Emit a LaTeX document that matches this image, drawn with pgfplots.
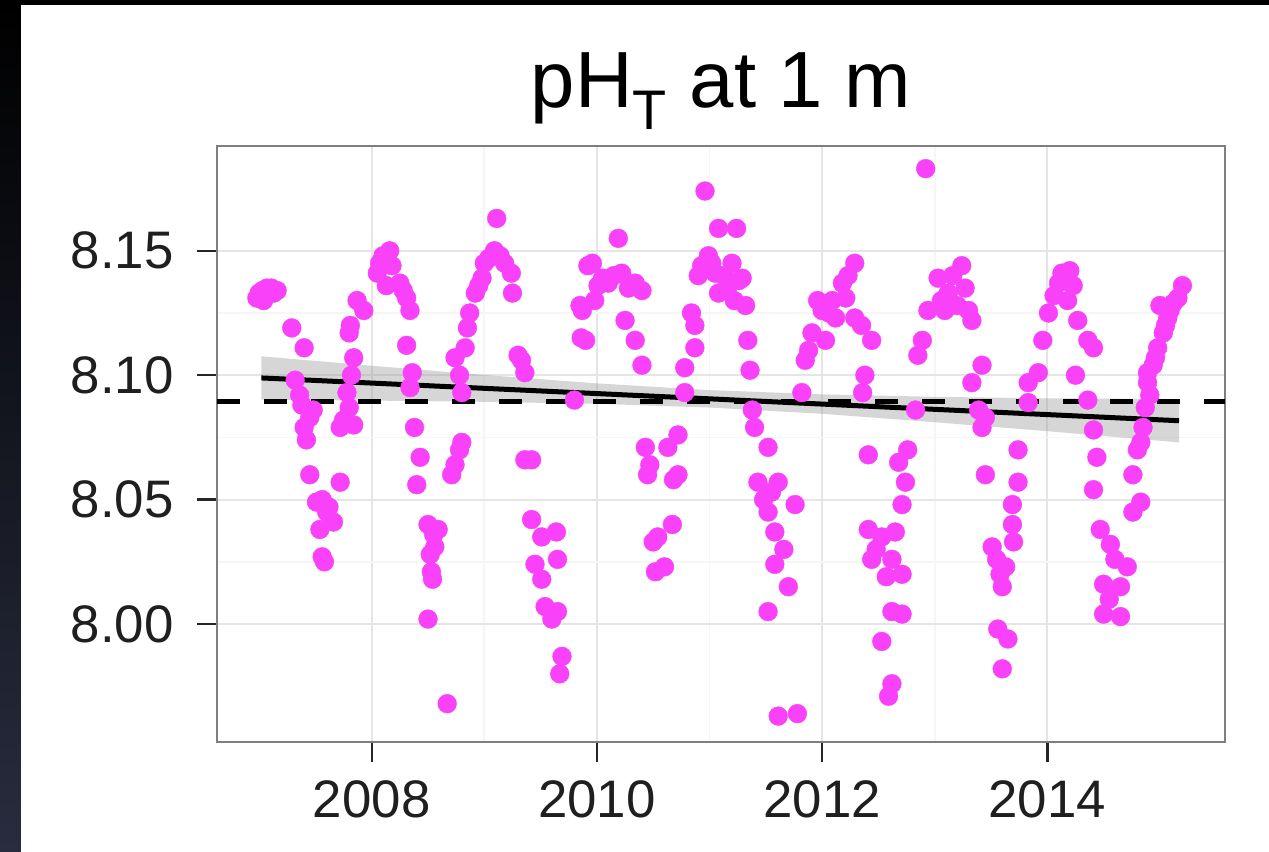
\documentclass[border=0pt]{standalone}
\usepackage{pgfplots}
\pgfplotsset{compat=1.18}
\usepackage{fontspec}
\setmainfont{Liberation Sans}

\definecolor{ptcol}{RGB}{250,65,250}
\definecolor{bandcol}{RGB}{153,153,153}
\definecolor{gridmaj}{RGB}{229,229,229}
\definecolor{gridmin}{RGB}{246,246,246}
\definecolor{framecol}{RGB}{127,127,127}

\pgfplotstableread{
t ph
2006.98 8.131
2007.00 8.133
2007.04 8.130
2007.03 8.134
2007.07 8.135
2007.11 8.135
2007.13 8.133
2007.16 8.134
2007.29 8.119
2007.40 8.111
2007.32 8.098
2007.36 8.092
2007.38 8.088
2007.48 8.086
2007.45 8.083
2007.40 8.079
2007.42 8.074
2007.45 8.060
2007.51 8.049
2007.56 8.050
2007.60 8.045
2007.62 8.047
2007.66 8.041
2007.54 8.038
2007.58 8.025
2007.56 8.027
2007.72 8.057
2007.72 8.079
2007.75 8.082
2007.84 8.080
2007.78 8.093
2007.80 8.087
2007.82 8.100
2007.84 8.107
2007.80 8.117
2007.81 8.120
2007.87 8.130
2007.93 8.126
2008.05 8.141
2008.07 8.145
2008.10 8.148
2008.12 8.146
2008.13 8.136
2008.16 8.150
2008.18 8.144
2008.25 8.137
2008.28 8.134
2008.31 8.131
2008.34 8.126
2008.31 8.112
2008.36 8.101
2008.34 8.095
2008.38 8.079
2008.43 8.067
2008.40 8.056
2008.50 8.040
2008.59 8.038
2008.56 8.031
2008.52 8.028
2008.55 8.036
2008.53 8.021
2008.54 8.018
2008.50 8.002
2008.67 7.968
2008.71 8.060
2008.74 8.064
2008.78 8.070
2008.80 8.073
2008.80 8.093
2008.78 8.100
2008.74 8.107
2008.83 8.111
2008.85 8.119
2008.87 8.125
2008.92 8.133
2008.95 8.136
2008.98 8.139
2009.00 8.145
2009.04 8.147
2009.09 8.150
2009.11 8.163
2009.14 8.148
2009.18 8.145
2009.24 8.141
2009.25 8.133
2009.30 8.108
2009.33 8.106
2009.36 8.101
2009.36 8.066
2009.42 8.066
2009.42 8.042
2009.51 8.035
2009.45 8.024
2009.51 8.018
2009.54 8.007
2009.60 8.002
2009.64 8.037
2009.65 8.026
2009.65 8.005
2009.69 7.987
2009.67 7.980
2009.80 8.090
2009.85 8.128
2009.87 8.126
2009.86 8.115
2009.90 8.114
2009.92 8.144
2009.96 8.145
2009.98 8.130
2010.01 8.136
2010.05 8.139
2010.10 8.137
2010.15 8.140
2010.19 8.155
2010.22 8.141
2010.28 8.135
2010.34 8.137
2010.40 8.134
2010.25 8.122
2010.34 8.114
2010.40 8.104
2010.43 8.071
2010.47 8.064
2010.45 8.060
2010.50 8.033
2010.52 8.021
2010.54 8.035
2010.60 8.023
2010.63 8.071
2010.67 8.040
2010.68 8.058
2010.72 8.076
2010.72 8.060
2010.78 8.093
2010.78 8.103
2010.87 8.111
2010.87 8.120
2010.84 8.125
2010.90 8.140
2010.93 8.144
2010.96 8.174
2010.99 8.148
2011.02 8.145
2011.05 8.141
2011.08 8.159
2011.08 8.133
2011.13 8.140
2011.16 8.135
2011.20 8.145
2011.22 8.130
2011.24 8.159
2011.26 8.138
2011.29 8.139
2011.32 8.128
2011.34 8.114
2011.36 8.102
2011.38 8.086
2011.40 8.079
2011.43 8.057
2011.48 8.050
2011.52 8.071
2011.52 8.045
2011.55 8.053
2011.58 8.037
2011.58 8.024
2011.61 8.057
2011.66 8.030
2011.70 8.015
2011.52 8.005
2011.76 8.048
2011.61 7.963
2011.78 7.964
2011.82 8.093
2011.85 8.106
2011.88 8.110
2011.91 8.117
2011.96 8.130
2012.00 8.126
2012.03 8.114
2012.06 8.125
2012.09 8.130
2012.12 8.123
2012.18 8.137
2012.21 8.131
2012.23 8.140
2012.29 8.145
2012.29 8.123
2012.35 8.120
2012.44 8.114
2012.38 8.100
2012.36 8.093
2012.41 8.068
2012.41 8.038
2012.48 8.030
2012.44 8.026
2012.53 8.035
2012.57 8.019
2012.62 8.026
2012.62 8.005
2012.53 7.993
2012.62 7.976
2012.59 7.971
2012.65 8.037
2012.68 8.065
2012.71 8.020
2012.71 8.004
2012.71 8.048
2012.74 8.057
2012.76 8.070
2012.83 8.086
2012.85 8.108
2012.89 8.114
2012.92 8.183
2012.94 8.126
2013.03 8.139
2013.06 8.130
2013.09 8.126
2013.12 8.133
2013.16 8.140
2013.20 8.128
2013.24 8.144
2013.27 8.135
2013.30 8.126
2013.33 8.122
2013.42 8.104
2013.33 8.097
2013.39 8.086
2013.42 8.079
2013.45 8.083
2013.45 8.060
2013.51 8.031
2013.55 8.026
2013.58 8.020
2013.63 8.023
2013.60 8.015
2013.56 7.998
2013.65 7.994
2013.60 7.982
2013.69 8.048
2013.69 8.040
2013.70 8.033
2013.74 8.070
2013.74 8.057
2013.83 8.089
2013.83 8.097
2013.92 8.101
2013.96 8.114
2014.01 8.125
2014.06 8.132
2014.10 8.137
2014.13 8.141
2014.20 8.142
2014.23 8.136
2014.18 8.130
2014.27 8.122
2014.25 8.100
2014.36 8.114
2014.41 8.111
2014.36 8.090
2014.41 8.078
2014.44 8.067
2014.41 8.054
2014.47 8.038
2014.56 8.032
2014.60 8.026
2014.50 8.016
2014.55 8.010
2014.50 8.004
2014.65 8.015
2014.65 8.003
2014.71 8.023
2014.76 8.045
2014.83 8.049
2014.76 8.060
2014.80 8.070
2014.83 8.073
2014.85 8.079
2014.87 8.087
2014.91 8.092
2014.89 8.097
2014.89 8.101
2014.94 8.104
2014.96 8.107
2014.98 8.111
2015.03 8.117
2015.05 8.120
2015.07 8.123
2015.09 8.126
2015.00 8.128
2015.12 8.129
2015.16 8.131
2015.20 8.136
}\phdata

% 95% confidence band of the linear trend: upper edge forward, lower edge back
\pgfplotstableread{
t ph
2007.02 8.1076
2008.00 8.1038
2009.00 8.1001
2010.00 8.0967
2011.00 8.0940
2012.00 8.0923
2013.00 8.0913
2014.00 8.0907
2015.17 8.0904
2015.17 8.0730
2014.00 8.0775
2013.00 8.0811
2012.00 8.0845
2011.00 8.0870
2010.00 8.0885
2009.00 8.0893
2008.00 8.0898
2007.02 8.0902
}\band

\begin{document}
\begin{tikzpicture}
% dark frame with the white canvas on top
\shade[top color=black, bottom color={rgb,255:red,40;green,44;blue,62}] (0,0) rectangle (634.5bp,426bp);
\fill[black] (10.5bp,423.5bp) rectangle (634.5bp,426bp);
\fill[white] (10.5bp,0) rectangle (634.5bp,423.5bp);
\begin{axis}[
  name=main,
  at={(108.5bp,55bp)}, anchor=south west,
  scale only axis, width=504bp, height=298bp,
  xmin=2006.626, xmax=2015.578,
  ymin=7.9526, ymax=8.1921,
  xtick={2008,2010,2012,2014},
  ytick={8.00,8.05,8.10,8.15},
  minor x tick num=1, minor y tick num=1,
  xmajorgrids, ymajorgrids, xminorgrids, yminorgrids,
  major grid style={gridmaj, line width=0.9bp},
  minor grid style={gridmin, line width=0.9bp},
  axis line style={framecol, line width=1.1bp},
  tick pos=left, tick align=outside,
  major tick length=10bp, minor tick length=0bp,
  tick style={black!85, line width=1.2bp},
  /pgf/number format/assume math mode=true,
  xticklabel style={/pgf/number format/1000 sep={}, font=\fontsize{26.5}{30}\selectfont, text=black!88, inner sep=0pt, yshift=-9bp},
  yticklabel style={/pgf/number format/fixed, /pgf/number format/fixed zerofill, /pgf/number format/precision=2,
    font=\fontsize{26.5}{30}\selectfont, text=black!88, inner sep=0pt, xshift=-11.5bp},
]
\addplot[only marks, color=ptcol, mark=*, mark size=4.7bp, mark options={fill=ptcol, draw=ptcol, line width=0.2bp}] table[x=t, y=ph] {\phdata};
\addplot[draw=none, fill=bandcol, fill opacity=0.4] table[x=t, y=ph] {\band};
\addplot[black, line width=2.5bp] coordinates {(2007.02,8.0989) (2015.17,8.0817)};
\addplot[black, line width=2.4bp, dash pattern=on 11.5bp off 12bp] coordinates {(2006.626,8.0893) (2015.578,8.0893)};
\end{axis}
\node[anchor=base, font=\fontsize{40}{46}\selectfont] at ([yshift=19bp]main.north) {pH\textsubscript{T} at 1 m};
\end{tikzpicture}
\end{document}
